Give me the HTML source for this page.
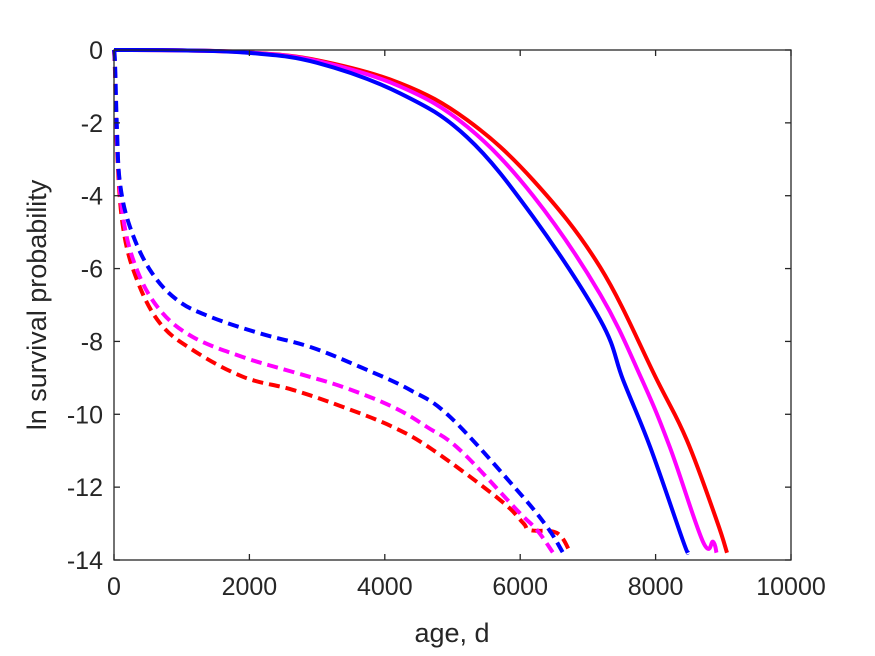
<!DOCTYPE html>
<html><head><meta charset="utf-8"><style>
body{margin:0;background:#fff;}
svg{display:block;font-family:"Liberation Sans",sans-serif;}
</style></head><body>
<svg id="chart" width="875" height="656">
<rect x="0" y="0" width="875" height="656" fill="#fff"/>
<g id="series"></g>
<g id="axes"></g>
<text x="452" y="642" text-anchor="middle" font-size="27" fill="#262626">age, d</text>
<text transform="translate(46,305) rotate(-90)" text-anchor="middle" font-size="27" fill="#262626">ln survival probability</text>
</svg>
<script>
const xTicks=[0,2000,4000,6000,8000,10000];
const yTicks=[0,-2,-4,-6,-8,-10,-12,-14];
const redSolidX=[0,1000,2000,3000,4225,5214,6190,7180,8020,8460,8900,9055];
const redSolidY=[0,-0.01,-0.07,-0.28,-0.91,-1.92,-3.57,-5.96,-9.06,-10.7,-12.9,-13.8];
const magSolidX=[0,1000,2000,3000,4225,5214,6190,7180,7800,8210,8700,8850,8900];
const magSolidY=[0,-0.01,-0.07,-0.3,-1.0,-2.1,-4.0,-6.7,-9.06,-10.9,-13.5,-13.5,-13.8];
const blueSolidX=[0,1000,2000,3000,4225,5214,6190,7180,7520,7920,8400,8480];
const blueSolidY=[0,-0.01,-0.08,-0.35,-1.19,-2.39,-4.58,-7.4,-9.06,-10.9,-13.45,-13.8];
const blueDashX=[0,15,44,89,236,532,930,1418,2157,2895,3634,4372,4963,5953,6396,6632];
const blueDashY=[0,-0.36,-2.2,-3.66,-4.86,-6.04,-6.86,-7.32,-7.78,-8.15,-8.7,-9.33,-10.07,-12.08,-13.09,-13.8];
const magDashX=[0,15,44,133,340,680,1167,1905,2644,3383,4121,4623,5111,5953,6248,6485];
const magDashY=[0,-0.5,-2.5,-4.58,-6.04,-7.14,-7.88,-8.43,-8.84,-9.25,-9.8,-10.35,-10.98,-12.63,-13.18,-13.8];
const redDashX=[0,15,44,133,340,680,1167,1905,2644,3383,4121,4712,5702,6041,6145,6543,6736];
const redDashY=[0,-0.6,-2.7,-4.86,-6.31,-7.5,-8.24,-8.97,-9.33,-9.8,-10.35,-10.98,-12.35,-12.98,-13.18,-13.26,-13.78];

const X0=114,X1=791,Y0=50,Y1=560;
const sx=v=>X0+(v-0)/10000*(X1-X0);
const sy=v=>Y0+(0-v)/14*(Y1-Y0);
const NS="http://www.w3.org/2000/svg";
const axes=document.getElementById('axes'), ser=document.getElementById('series');
function mk(tag,attrs,parent){const e=document.createElementNS(NS,tag);for(const k in attrs)e.setAttribute(k,attrs[k]);parent.appendChild(e);return e;}
function smoothPath(pts){
  let d='M'+pts[0][0].toFixed(1)+','+pts[0][1].toFixed(1);
  const t=0.18;
  for(let i=0;i<pts.length-1;i++){
    const p0=pts[Math.max(0,i-1)],p1=pts[i],p2=pts[i+1],p3=pts[Math.min(pts.length-1,i+2)];
    const c1=[p1[0]+(p2[0]-p0[0])*t,p1[1]+(p2[1]-p0[1])*t];
    const c2=[p2[0]-(p3[0]-p1[0])*t,p2[1]-(p3[1]-p1[1])*t];
    d+=' C'+c1[0].toFixed(1)+','+c1[1].toFixed(1)+' '+c2[0].toFixed(1)+','+c2[1].toFixed(1)+' '+p2[0].toFixed(1)+','+p2[1].toFixed(1);
  }
  return d;
}
function line(xs,ys,color,dashed,name){
  const pts=xs.map((x,i)=>[sx(x),sy(ys[i])]);
  const p=mk('path',{d:smoothPath(pts),fill:'none',stroke:color,'stroke-width':4,'stroke-linejoin':'round'},ser);
  if(dashed)p.setAttribute('stroke-dasharray','11,6');
  
  
}
line(redDashX,redDashY,'#ff0000',true,'red-dashed-line');
line(magDashX,magDashY,'#ff00ff',true,'magenta-dashed-line');
line(blueDashX,blueDashY,'#0000ff',true,'blue-dashed-line');
line(redSolidX,redSolidY,'#ff0000',false,'red-solid-line');
line(magSolidX,magSolidY,'#ff00ff',false,'magenta-solid-line');
line(blueSolidX,blueSolidY,'#0000ff',false,'blue-solid-line');
const box=mk('rect',{x:X0,y:Y0,width:X1-X0,height:Y1-Y0,fill:'none',stroke:'#262626','stroke-width':1.3},axes);


xTicks.forEach(t=>{
  const x=sx(t);
  mk('line',{x1:x,x2:x,y1:Y1,y2:Y1-6,stroke:'#262626','stroke-width':1.3},axes);
  mk('line',{x1:x,x2:x,y1:Y0,y2:Y0+6,stroke:'#262626','stroke-width':1.3},axes);
  const tx=mk('text',{x:x,y:Y1+35,'text-anchor':'middle','font-size':25,fill:'#262626'},axes);
  tx.textContent=t;
  
  
});
yTicks.forEach(t=>{
  const y=sy(t);
  mk('line',{x1:X0,x2:X0+6,y1:y,y2:y,stroke:'#262626','stroke-width':1.3},axes);
  mk('line',{x1:X1,x2:X1-6,y1:y,y2:y,stroke:'#262626','stroke-width':1.3},axes);
  const tx=mk('text',{x:X0-11,y:y+9,'text-anchor':'end','font-size':25,fill:'#262626'},axes);
  tx.textContent=t;
  
  
});
</script>
</body></html>
